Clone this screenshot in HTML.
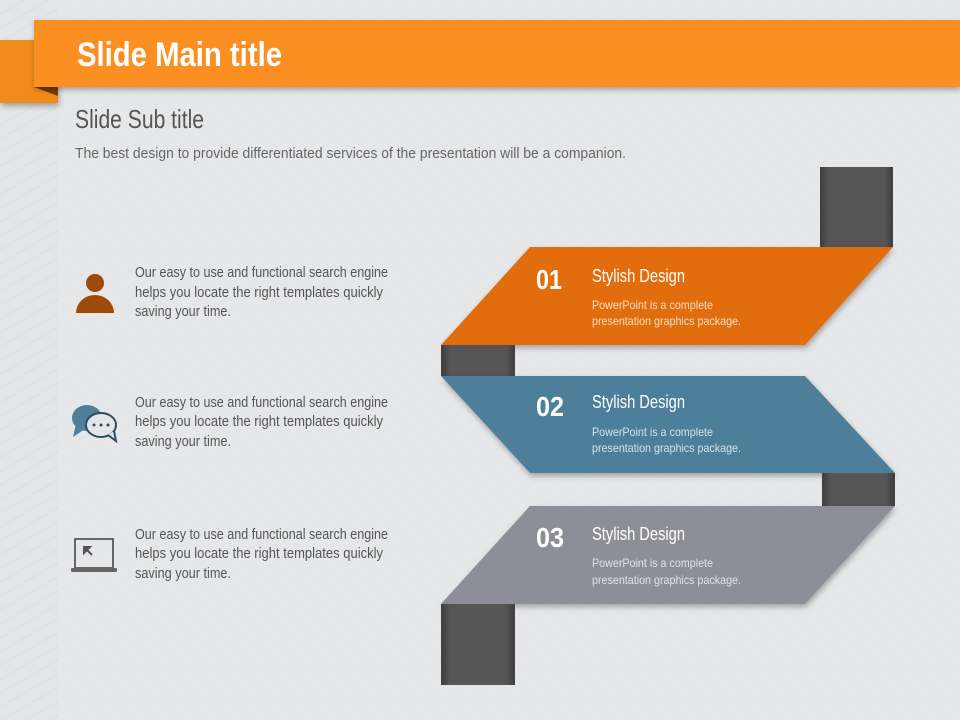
<!DOCTYPE html>
<html><head><meta charset="utf-8"><style>html,body{margin:0;padding:0;width:960px;height:720px;overflow:hidden;background:#e4e5e7}</style></head><body>
<svg width="960" height="720" viewBox="0 0 960 720" xmlns="http://www.w3.org/2000/svg" font-family="'Liberation Sans Narrow','Liberation Sans',sans-serif">
<defs>
<pattern id="st" width="12" height="12" patternUnits="userSpaceOnUse" patternTransform="rotate(-30)"><rect width="12" height="12" fill="#e4e5e7"/><rect width="12" height="1" fill="#dcdde0"/></pattern>
<filter id="sh" x="-10%" y="-10%" width="130%" height="140%"><feDropShadow dx="1" dy="3" stdDeviation="3" flood-color="#000" flood-opacity="0.3"/></filter>
<linearGradient id="db" x1="0" x2="1"><stop offset="0" stop-color="#3e3e3e"/><stop offset="0.12" stop-color="#555"/><stop offset="0.88" stop-color="#555"/><stop offset="1" stop-color="#3e3e3e"/></linearGradient>
</defs>
<rect width="960" height="720" fill="url(#st)"/>
<rect x="58" y="0" width="902" height="720" fill="#e8e9eb" opacity="0.5"/>
<rect x="0" y="40" width="58" height="63" fill="#f08a1a" filter="url(#sh)"/>
<polygon points="34,87 58,87 58,96" fill="#7a3f0a"/>
<rect x="34" y="20" width="926" height="67" fill="#fb8f20" filter="url(#sh)"/>
<text x="77" y="66" font-size="34" font-weight="bold" fill="#fff" textLength="205" lengthAdjust="spacingAndGlyphs">Slide Main title</text>
<text x="75" y="128" font-size="26" fill="#555" textLength="129" lengthAdjust="spacingAndGlyphs">Slide Sub title</text>
<text x="75" y="158" font-size="15" fill="#666" textLength="551" lengthAdjust="spacingAndGlyphs">The best design to provide differentiated services of the presentation will be a companion.</text>

<g font-size="15" fill="#555">
<text x="135" y="277" textLength="253" lengthAdjust="spacingAndGlyphs">Our easy to use and functional search engine</text>
<text x="135" y="297" textLength="248" lengthAdjust="spacingAndGlyphs">helps you locate the right templates quickly</text>
<text x="135" y="316" textLength="96" lengthAdjust="spacingAndGlyphs">saving your time.</text>
<text x="135" y="407" textLength="253" lengthAdjust="spacingAndGlyphs">Our easy to use and functional search engine</text>
<text x="135" y="426" textLength="248" lengthAdjust="spacingAndGlyphs">helps you locate the right templates quickly</text>
<text x="135" y="446" textLength="96" lengthAdjust="spacingAndGlyphs">saving your time.</text>
<text x="135" y="539" textLength="253" lengthAdjust="spacingAndGlyphs">Our easy to use and functional search engine</text>
<text x="135" y="558" textLength="248" lengthAdjust="spacingAndGlyphs">helps you locate the right templates quickly</text>
<text x="135" y="578" textLength="96" lengthAdjust="spacingAndGlyphs">saving your time.</text>
</g>
<!-- icons -->
<circle cx="95" cy="283" r="9" fill="#a04a08"/>
<path d="M76,313 A19,18 0 0 1 114,313 Z" fill="#a04a08"/>
<ellipse cx="87" cy="418" rx="15" ry="13" fill="#4e7f9b"/>
<path d="M76,424 l-3,13 l12,-8 z" fill="#4e7f9b"/>
<ellipse cx="101" cy="425" rx="15" ry="12" fill="#e4e5e7" stroke="#2f4d60" stroke-width="2"/>
<path d="M108,435 l8,6 l-2,-10" fill="#e4e5e7" stroke="#2f4d60" stroke-width="2"/>
<circle cx="94" cy="425" r="1.5" fill="#2f4d60"/><circle cx="101" cy="425" r="1.5" fill="#2f4d60"/><circle cx="108" cy="425" r="1.5" fill="#2f4d60"/>
<rect x="75" y="539" width="38" height="29" fill="none" stroke="#666" stroke-width="2"/>
<rect x="71" y="568" width="46" height="4" rx="1" fill="#666"/>
<path d="M84,547 l8,8 M84,547 l0,6 l6,-6 z" stroke="#555" stroke-width="2" fill="#555"/>

<!-- ribbon -->
<rect x="820" y="167" width="73" height="80" fill="url(#db)"/>
<polygon points="441,345 530,247 893,247 805,345" fill="#e26d0e" filter="url(#sh)"/>
<rect x="441" y="345" width="74" height="31" fill="url(#db)"/>
<polygon points="441,376 805,376 895,473 530,473" fill="#4e7f9b" filter="url(#sh)"/>
<rect x="822" y="473" width="73" height="33" fill="url(#db)"/>
<polygon points="441,604 530,506 895,506 805,604" fill="#8e8e98" filter="url(#sh)"/>
<rect x="441" y="604" width="74" height="81" fill="url(#db)"/>

<g fill="#fff">
<text x="536" y="289" font-size="28" font-weight="bold" textLength="26" lengthAdjust="spacingAndGlyphs">01</text>
<text x="592" y="282" font-size="18" textLength="93" lengthAdjust="spacingAndGlyphs">Stylish Design</text>
<text x="592" y="309" font-size="12" fill="#f6dcc6" textLength="121" lengthAdjust="spacingAndGlyphs">PowerPoint is a complete</text>
<text x="592" y="325" font-size="12" fill="#f6dcc6" textLength="149" lengthAdjust="spacingAndGlyphs">presentation graphics package.</text>
<text x="536" y="416" font-size="28" font-weight="bold" textLength="28" lengthAdjust="spacingAndGlyphs">02</text>
<text x="592" y="408" font-size="18" textLength="93" lengthAdjust="spacingAndGlyphs">Stylish Design</text>
<text x="592" y="436" font-size="12" fill="#d6e2ea" textLength="121" lengthAdjust="spacingAndGlyphs">PowerPoint is a complete</text>
<text x="592" y="452" font-size="12" fill="#d6e2ea" textLength="149" lengthAdjust="spacingAndGlyphs">presentation graphics package.</text>
<text x="536" y="547" font-size="28" font-weight="bold" textLength="28" lengthAdjust="spacingAndGlyphs">03</text>
<text x="592" y="540" font-size="18" textLength="93" lengthAdjust="spacingAndGlyphs">Stylish Design</text>
<text x="592" y="567" font-size="12" fill="#e2e2e6" textLength="121" lengthAdjust="spacingAndGlyphs">PowerPoint is a complete</text>
<text x="592" y="584" font-size="12" fill="#e2e2e6" textLength="149" lengthAdjust="spacingAndGlyphs">presentation graphics package.</text>
</g>
</svg>
</body></html>
